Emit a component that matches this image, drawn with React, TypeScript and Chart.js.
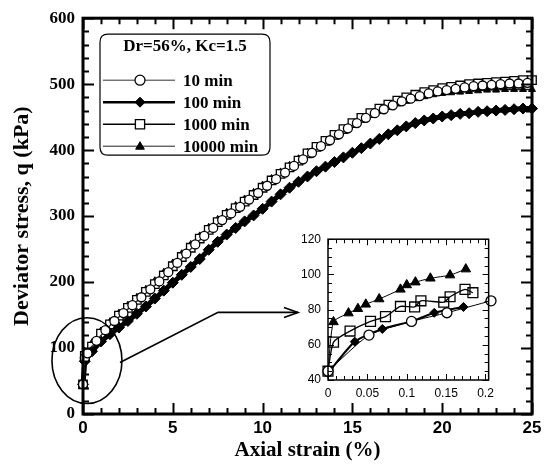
import React, { useEffect, useRef } from "react";
import { Chart, registerables } from "chart.js";

Chart.register(...registerables);

// ---------- main chart data ----------
const strain = [0, 0.1, 0.5, 1, 1.5, 2, 2.5, 3, 3.5, 4, 4.5, 5, 5.5, 6, 6.5, 7, 7.5, 8, 8.5, 9, 9.5, 10, 10.5, 11, 11.5, 12, 12.5, 13, 13.5, 14, 14.5, 15, 15.5, 16, 16.5, 17, 17.5, 18, 18.5, 19, 19.5, 20, 20.5, 21, 21.5, 22, 22.5, 23, 23.5, 24, 24.5, 25];
const strain10min = [0, 0.1, 0.25, 0.75, 1.25, 1.75, 2.25, 2.75, 3.25, 3.75, 4.25, 4.75, 5.25, 5.75, 6.25, 6.75, 7.25, 7.75, 8.25, 8.75, 9.25, 9.75, 10.25, 10.75, 11.25, 11.75, 12.25, 12.75, 13.25, 13.75, 14.25, 14.75, 15.25, 15.75, 16.25, 16.75, 17.25, 17.75, 18.25, 18.75, 19.25, 19.75, 20.25, 20.75, 21.25, 21.75, 22.25, 22.75, 23.25, 23.75, 24.25, 24.75];

const q10min = [45, 85, 92, 111, 127, 141, 153, 165, 177, 189, 201, 215, 229, 243, 257, 270, 282, 294, 304, 314, 325, 335, 346, 356, 366, 376, 386, 396, 406, 415, 424, 433, 441, 449, 456, 462, 468, 474, 478, 482, 486, 489, 491, 493, 495, 497, 498, 499, 500, 501, 501, 502];
const q100min = [45, 80, 95, 110, 121, 131, 141, 152, 163, 175, 187, 199, 211, 223, 235, 249, 261, 272, 282, 292, 301, 311, 322, 333, 343, 352, 360, 368, 375, 382, 389, 396, 403, 410, 417, 424, 430, 436, 441, 445, 448, 451, 453, 455, 456, 458, 459, 460, 461, 462, 463, 463];
const q1000min = [45, 88, 102, 122, 136, 149, 161, 173, 185, 197, 210, 224, 238, 252, 266, 279, 291, 302, 312, 322, 332, 343, 354, 364, 374, 384, 395, 405, 414, 423, 432, 441, 449, 456, 463, 469, 475, 480, 484, 488, 491, 494, 496, 498, 500, 501, 502, 503, 504, 505, 506, 506];
const q10000min = [45, 95, 108, 126, 140, 153, 165, 177, 189, 202, 215, 229, 243, 257, 270, 283, 295, 306, 316, 326, 336, 347, 357, 367, 377, 387, 397, 406, 415, 423, 431, 439, 446, 453, 459, 465, 470, 474, 478, 481, 484, 486, 487, 488, 489, 490, 491, 491, 492, 492, 492, 492];

const seriesLabels = ["10 min", "100 min", "1000 min", "10000 min"];
const legendTitle = "Dr=56%, Kc=1.5";
const xTitle = "Axial strain (%)";
const yTitle = "Deviator stress, q (kPa)";
const mainXTicks = [0, 5, 10, 15, 20, 25];
const mainYTicks = [0, 100, 200, 300, 400, 500, 600];

// ---------- inset data ----------
const insetStrain10 = [0, 0.052, 0.106, 0.151, 0.207];
const insetQ10 = [45, 65.5, 73.3, 78.2, 85];
const insetStrain100 = [0, 0.034, 0.069, 0.106, 0.135, 0.172];
const insetQ100 = [44, 61.8, 69, 73.3, 78.2, 81.5];
const insetStrain1000 = [0, 0.007, 0.028, 0.054, 0.073, 0.092, 0.11, 0.118, 0.147, 0.155, 0.174, 0.184];
const insetQ1000 = [45, 61.5, 67.8, 73.3, 76, 81.8, 81.5, 85, 84.2, 87.3, 91.5, 89.6];
const insetStrain10000 = [0, 0.007, 0.026, 0.038, 0.048, 0.065, 0.092, 0.1, 0.111, 0.13, 0.155, 0.175];
const insetQ10000 = [45, 73, 78, 80.5, 83, 86, 91.5, 94, 95.6, 97.8, 99.6, 103];
const insetXTicks = [0, 0.05, 0.1, 0.15, 0.2];
const insetYTicks = [40, 60, 80, 100, 120];

// zoom ellipse and arrow, in data units of the main chart
const ellipseCenter = { x: 0.22, y: 81 };
const ellipseRadius = { x: 1.95, y: 65 };
const arrowPath = [
  { x: 2.06, y: 78 },
  { x: 7.52, y: 154 },
  { x: 11.97, y: 154 },
];

const SERIF = '"Liberation Serif", "Times New Roman", serif';
const SANS = '"Liberation Sans", Arial, sans-serif';

const toXY = (xs: number[], ys: number[]) => xs.map((x, i) => ({ x, y: ys[i] }));

function drawMarker(ctx: CanvasRenderingContext2D, style: string, x: number, y: number, r: number, fill: string, stroke: string, lw: number) {
  ctx.beginPath();
  if (style === "circle") {
    ctx.arc(x, y, r, 0, Math.PI * 2);
  } else if (style === "rectRot") {
    ctx.moveTo(x, y - r); ctx.lineTo(x + r, y); ctx.lineTo(x, y + r); ctx.lineTo(x - r, y); ctx.closePath();
  } else if (style === "rect") {
    const s = r * Math.SQRT1_2;
    ctx.rect(x - s, y - s, 2 * s, 2 * s);
  } else if (style === "triangle") {
    const h = r * 1.5;
    ctx.moveTo(x, y - h * 0.6);
    ctx.lineTo(x + r * 0.87, y + h * 0.4);
    ctx.lineTo(x - r * 0.87, y + h * 0.4);
    ctx.closePath();
  }
  ctx.fillStyle = fill;
  ctx.fill();
  ctx.lineWidth = lw;
  ctx.strokeStyle = stroke;
  ctx.stroke();
}

function makeFramePlugin(cfg: { xMajor: number; xMinor: number; yMajor: number; yMinor: number; major: number; minor: number; frameWidth: number; tickWidth: number }) {
  return {
    id: "frameTicks",
    afterDatasetsDraw(chart: any) {
      const { ctx, chartArea: a, scales } = chart;
      const x = scales.x, y = scales.y;
      ctx.save();
      ctx.strokeStyle = "#000";
      ctx.lineWidth = cfg.tickWidth;
      ctx.beginPath();
      const nx = Math.floor((x.max - x.min) / cfg.xMinor + 1e-6);
      for (let i = 0; i <= nx; i++) {
        const v = x.min + i * cfg.xMinor;
        const r = v / cfg.xMajor;
        const L = Math.abs(r - Math.round(r)) < 1e-6 ? cfg.major : cfg.minor;
        const px = Math.round(x.getPixelForValue(v)) + 0.5;
        ctx.moveTo(px, a.bottom); ctx.lineTo(px, a.bottom - L);
        ctx.moveTo(px, a.top); ctx.lineTo(px, a.top + L);
      }
      const ny = Math.floor((y.max - y.min) / cfg.yMinor + 1e-6);
      for (let i = 0; i <= ny; i++) {
        const v = y.min + i * cfg.yMinor;
        const r = v / cfg.yMajor;
        const L = Math.abs(r - Math.round(r)) < 1e-6 ? cfg.major : cfg.minor;
        const py = Math.round(y.getPixelForValue(v)) + 0.5;
        ctx.moveTo(a.left, py); ctx.lineTo(a.left + L, py);
        ctx.moveTo(a.right, py); ctx.lineTo(a.right - L, py);
      }
      ctx.stroke();
      ctx.lineWidth = cfg.frameWidth;
      ctx.strokeRect(a.left, a.top, a.right - a.left, a.bottom - a.top);
      ctx.restore();
    },
  };
}

const legendPlugin = {
  id: "boxLegend",
  afterDraw(chart: any) {
    const { ctx, chartArea: a } = chart;
    const x0 = a.left + 17, y0 = a.top + 16, w = 170, h = 121, rad = 8;
    ctx.save();
    ctx.beginPath();
    ctx.moveTo(x0 + rad, y0);
    ctx.lineTo(x0 + w - rad, y0);
    ctx.quadraticCurveTo(x0 + w, y0, x0 + w, y0 + rad);
    ctx.lineTo(x0 + w, y0 + h - rad);
    ctx.quadraticCurveTo(x0 + w, y0 + h, x0 + w - rad, y0 + h);
    ctx.lineTo(x0 + rad, y0 + h);
    ctx.quadraticCurveTo(x0, y0 + h, x0, y0 + h - rad);
    ctx.lineTo(x0, y0 + rad);
    ctx.quadraticCurveTo(x0, y0, x0 + rad, y0);
    ctx.closePath();
    ctx.fillStyle = "#fff";
    ctx.fill();
    ctx.lineWidth = 1.2;
    ctx.strokeStyle = "#000";
    ctx.stroke();

    ctx.fillStyle = "#000";
    ctx.font = `bold 17px ${SERIF}`;
    ctx.textAlign = "center";
    ctx.textBaseline = "middle";
    ctx.fillText(legendTitle, x0 + w / 2, y0 + 12);

    const ds = chart.data.datasets;
    ds.forEach((d: any, row: number) => {
      const yy = y0 + 46 + row * 22;
      ctx.beginPath();
      ctx.moveTo(x0 + 3, yy);
      ctx.lineTo(x0 + 75, yy);
      ctx.lineWidth = d.legendLineWidth;
      ctx.strokeStyle = d.borderColor;
      ctx.stroke();
      drawMarker(ctx, d.pointStyle, x0 + 40, yy, d.legendRadius, d.legendFill, d.pointBorderColor, d.pointBorderWidth);
      ctx.fillStyle = "#000";
      ctx.font = `bold 17px ${SERIF}`;
      ctx.textAlign = "left";
      ctx.textBaseline = "middle";
      ctx.fillText(d.label, x0 + 83, yy + 1);
    });
    ctx.restore();
  },
};

const annotationPlugin = {
  id: "zoomMark",
  afterDraw(chart: any) {
    const { ctx, scales } = chart;
    const x = scales.x, y = scales.y;
    const cx = x.getPixelForValue(ellipseCenter.x);
    const cy = y.getPixelForValue(ellipseCenter.y);
    const rx = Math.abs(x.getPixelForValue(ellipseCenter.x + ellipseRadius.x) - cx);
    const ry = Math.abs(y.getPixelForValue(ellipseCenter.y + ellipseRadius.y) - cy);
    ctx.save();
    ctx.strokeStyle = "#000";
    ctx.lineWidth = 1.6;
    ctx.beginPath();
    ctx.ellipse(cx, cy, rx, ry, 0, 0, Math.PI * 2);
    ctx.stroke();
    ctx.beginPath();
    arrowPath.forEach((p, i) => {
      const px = x.getPixelForValue(p.x), py = y.getPixelForValue(p.y);
      if (i === 0) ctx.moveTo(px, py); else ctx.lineTo(px, py);
    });
    ctx.stroke();
    const tip = arrowPath[arrowPath.length - 1];
    const tx = x.getPixelForValue(tip.x), ty = y.getPixelForValue(tip.y);
    ctx.beginPath();
    ctx.moveTo(tx - 14, ty - 5);
    ctx.lineTo(tx, ty);
    ctx.lineTo(tx - 14, ty + 5);
    ctx.stroke();
    ctx.restore();
  },
};

export default function App() {
  const mainRef = useRef<HTMLCanvasElement>(null);
  const insetRef = useRef<HTMLCanvasElement>(null);

  useEffect(() => {
    const styles = [
      { pointStyle: "circle", pointRadius: 4.5, legendRadius: 5, legendFill: "#fff", pointBackgroundColor: "#fff", pointBorderColor: "#000", pointBorderWidth: 1.3, borderColor: "#333", borderWidth: 1.5, legendLineWidth: 1 },
      { pointStyle: "rectRot", pointRadius: 5.5, legendRadius: 5, legendFill: "#000", pointBackgroundColor: "#000", pointBorderColor: "#000", pointBorderWidth: 1, borderColor: "#000", borderWidth: 5, legendLineWidth: 2.5 },
      { pointStyle: "rect", pointRadius: 6, legendRadius: 6.5, legendFill: "#fff", pointBackgroundColor: "#fff", pointBorderColor: "#000", pointBorderWidth: 1.3, borderColor: "#000", borderWidth: 2, legendLineWidth: 1.5 },
      { pointStyle: "triangle", pointRadius: 4, legendRadius: 5, legendFill: "#000", pointBackgroundColor: "#000", pointBorderColor: "#000", pointBorderWidth: 1, borderColor: "#222", borderWidth: 1.5, legendLineWidth: 1 },
    ];
    const mainX = [strain10min, strain, strain, strain];
    const mainSeries = [q10min, q100min, q1000min, q10000min];
    const main = new Chart(mainRef.current as HTMLCanvasElement, {
      type: "line",
      data: {
        datasets: mainSeries.map((q, i) => ({
          label: seriesLabels[i],
          data: toXY(mainX[i], q),
          ...styles[i],
          fill: false,
          tension: 0,
          clip: false,
        })) as any,
      },
      options: {
        animation: false,
        responsive: false,
        maintainAspectRatio: false,
        layout: { padding: { top: 16, right: 14, left: 0, bottom: 0 } },
        plugins: { legend: { display: false }, tooltip: { enabled: false } },
        scales: {
          x: {
            type: "linear",
            min: 0,
            max: 25,
            afterFit: (s: any) => { s.height = 52; },
            afterBuildTicks: (s: any) => { s.ticks = mainXTicks.map((v) => ({ value: v })); },
            grid: { display: false, drawTicks: false },
            border: { display: false },
            ticks: { padding: 4, color: "#000", font: { family: SANS, size: 17, weight: "bold" }, callback: (v: any) => String(v), maxRotation: 0 },
            title: { display: true, text: xTitle, color: "#000", font: { family: SERIF, size: 21, weight: "bold" }, padding: { top: 0, bottom: 3 } },
          },
          y: {
            type: "linear",
            min: 0,
            max: 600,
            afterFit: (s: any) => { s.width = 83; },
            afterBuildTicks: (s: any) => { s.ticks = mainYTicks.map((v) => ({ value: v })); },
            grid: { display: false, drawTicks: false },
            border: { display: false },
            ticks: { padding: 8, color: "#000", font: { family: SERIF, size: 17, weight: "bold" }, callback: (v: any) => String(v) },
            title: { display: true, text: yTitle, color: "#000", font: { family: SERIF, size: 22, weight: "bold" }, padding: { top: 9, bottom: 0 } },
          },
        },
      } as any,
      plugins: [
        makeFramePlugin({ xMajor: 5, xMinor: 1, yMajor: 100, yMinor: 20, major: 11, minor: 6, frameWidth: 3, tickWidth: 2 }),
        annotationPlugin,
        legendPlugin,
      ],
    });

    const insetStyles = [
      { pointStyle: "circle", pointRadius: 5, pointBackgroundColor: "#fff", pointBorderColor: "#000", pointBorderWidth: 1.3, borderColor: "#000", borderWidth: 1 },
      { pointStyle: "rectRot", pointRadius: 4.5, pointBackgroundColor: "#000", pointBorderColor: "#000", pointBorderWidth: 1, borderColor: "#000", borderWidth: 2 },
      { pointStyle: "rect", pointRadius: 7, pointBackgroundColor: "rgba(255,255,255,0)", pointBorderColor: "#000", pointBorderWidth: 1.3, borderColor: "#000", borderWidth: 1.3 },
      { pointStyle: "triangle", pointRadius: 5.5, pointBackgroundColor: "#000", pointBorderColor: "#000", pointBorderWidth: 1, borderColor: "#000", borderWidth: 1 },
    ];
    const insetX = [insetStrain10, insetStrain100, insetStrain1000, insetStrain10000];
    const insetY = [insetQ10, insetQ100, insetQ1000, insetQ10000];
    const inset = new Chart(insetRef.current as HTMLCanvasElement, {
      type: "line",
      data: {
        datasets: insetX.map((xs, i) => ({
          label: seriesLabels[i],
          data: toXY(xs, insetY[i]),
          ...insetStyles[i],
          fill: false,
          tension: 0.2,
          clip: false,
        })) as any,
      },
      options: {
        animation: false,
        responsive: false,
        maintainAspectRatio: false,
        layout: { padding: { top: 8, right: 7, left: 0, bottom: 0 } },
        plugins: { legend: { display: false }, tooltip: { enabled: false } },
        scales: {
          x: {
            type: "linear",
            min: 0,
            max: 0.204,
            afterFit: (s: any) => { s.height = 25; },
            afterBuildTicks: (s: any) => { s.ticks = insetXTicks.map((v) => ({ value: v })); },
            grid: { display: false, drawTicks: false },
            border: { display: false },
            ticks: { padding: 6, color: "#000", font: { family: SANS, size: 12 }, callback: (v: any) => String(v), maxRotation: 0 },
          },
          y: {
            type: "linear",
            min: 40,
            max: 120,
            afterFit: (s: any) => { s.width = 43; },
            afterBuildTicks: (s: any) => { s.ticks = insetYTicks.map((v) => ({ value: v })); },
            grid: { display: false, drawTicks: false },
            border: { display: false },
            ticks: { padding: 7, color: "#000", font: { family: SANS, size: 12 }, callback: (v: any) => String(v) },
          },
        },
      } as any,
      plugins: [makeFramePlugin({ xMajor: 0.05, xMinor: 0.01, yMajor: 20, yMinor: 5, major: 6, minor: 4, frameWidth: 1.5, tickWidth: 1 })],
    });

    return () => {
      main.destroy();
      inset.destroy();
    };
  }, []);

  return (
    <div style={{ position: "fixed", left: 0, top: 0, width: 546, height: 466, background: "#fff" }}>
      <canvas ref={mainRef} width={546} height={466} style={{ position: "absolute", left: 0, top: 0, width: 546, height: 466 }} />
      <canvas ref={insetRef} width={215} height={180} style={{ position: "absolute", left: 285, top: 225, width: 215, height: 180 }} />
    </div>
  );
}
